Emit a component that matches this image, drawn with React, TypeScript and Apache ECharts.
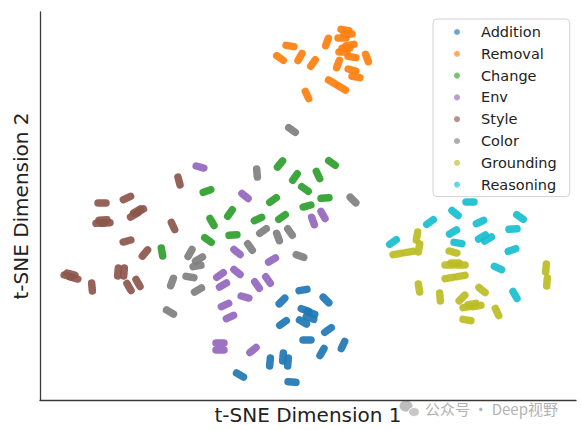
import React, { useEffect, useRef } from "react";
import * as echarts from "echarts";

// Category names (legend order)
const categories = ["Addition", "Removal", "Change", "Env", "Style", "Color", "Grounding", "Reasoning"];

// t-SNE embedded points: [dim1, dim2, orientation of the stroke in degrees]
const additionPts = [
  [263, 110, 10], [242, 99, 45], [286, 100, -45], [265, 90, -20], [271, 87, -20],
  [270, 82, -20], [263, 78, -30], [243, 77, 35], [288, 70, 35], [267, 60, 0],
  [303, 55, 65], [282, 48, 60], [230, 38, 85], [243, 43, 85], [248, 38, 85],
  [200, 25, -30], [252, 18, -5],
];
const removalPts = [
  [240, 342, -35], [250, 354, -10], [260, 343, 60], [273, 337, 55], [287, 358, 70],
  [305, 370, -10], [302, 362, 0], [310, 355, 10], [303, 348, 0], [312, 343, -10],
  [298, 336, 70], [312, 330, -15], [316, 323, -10], [327, 342, -70], [292, 318, -30],
  [302, 312, -30], [267, 305, -65], [308, 366, 0], [306, 352, 5],
];
const changePts = [
  [240, 236, 50], [292, 237, -35], [255, 223, 55], [278, 225, -65], [167, 209, 20],
  [233, 200, 35], [265, 211, -35], [285, 202, 5], [190, 187, 55], [172, 178, -60],
  [218, 181, 25], [242, 183, 35], [267, 194, 15], [193, 165, 5], [168, 160, -35],
  [122, 148, -80],
];
const envPts = [
  [160, 233, -15], [205, 204, -40], [273, 179, -70], [283, 185, -60], [197, 148, -40],
  [232, 140, 30], [180, 125, 35], [197, 128, -40], [183, 115, 30], [217, 115, -55],
  [228, 120, -55], [205, 103, -15], [185, 95, 25], [190, 83, 25], [180, 57, 0],
  [180, 50, 0], [213, 50, 40],
];
const stylePts = [
  [62, 197, 0], [87, 202, 25], [60, 177, 5], [66, 177, 5], [63, 180, 5], [94, 185, 30],
  [100, 189, 30], [97, 189, 30], [139, 219, -75], [133, 174, -65], [87, 159, 15], [105, 147, 50],
  [28, 124, -15], [34, 122, -15], [31, 126, -15], [52, 113, -85], [78, 128, 85], [84, 128, 85],
  [89, 113, -60], [98, 117, -60],
];
const colorPts = [
  [252, 270, -35], [217, 227, -85], [313, 200, -45], [223, 169, 35], [238, 163, -70],
  [250, 168, -55], [210, 153, -55], [260, 144, -20], [150, 147, 60], [159, 141, 30],
  [157, 134, 10], [132, 118, 70], [150, 123, -10], [158, 110, 30], [130, 88, -30],
];
const groundingPts = [
  [377, 164, 80], [379, 152, 80], [357, 146, 10], [369, 148, 10], [413, 148, -15],
  [409, 135, 0], [421, 135, 0], [415, 137, 0], [409, 122, 10], [421, 124, 10], [506, 132, 85],
  [507, 118, 85], [379, 112, -80], [400, 103, -85], [422, 102, 45], [442, 110, -40],
  [427, 93, 10], [437, 94, 10], [432, 96, 10], [457, 88, -65], [427, 80, -10],
];
const reasoningPts = [
  [430, 198, 0], [415, 187, -40], [390, 178, 35], [440, 178, 25], [480, 183, -35],
  [413, 168, 30], [473, 171, 5], [442, 163, 30], [448, 161, 30], [418, 157, -10],
  [353, 158, 35], [472, 150, 20], [458, 132, -25], [475, 105, -60],
];

const seriesPoints = [additionPts, removalPts, changePts, envPts, stylePts, colorPts, groundingPts, reasoningPts];

const palette = ["#1f77b4", "#ff7f0e", "#2ca02c", "#9467bd", "#8c564b", "#7f7f7f", "#bcbd22", "#17becf"];

const capsule = "path://M4,0L12,0A4,4,0,0,1,12,8L4,8A4,4,0,0,1,4,0Z";
const FONT = "DejaVu Sans";

export default function App() {
  const ref = useRef<HTMLDivElement>(null);
  useEffect(() => {
    if (!ref.current) return;
    const chart = echarts.init(ref.current, undefined, { renderer: "svg" });
    chart.setOption({
      animation: false,
      backgroundColor: "#ffffff",
      grid: { left: 40, right: 6, top: 12, bottom: 30 },
      xAxis: {
        type: "value", min: 0, max: 536,
        name: "t-SNE Dimension 1", nameLocation: "middle", nameGap: 5,
        nameTextStyle: { fontFamily: FONT, fontSize: 20, color: "#222" },
        axisLine: { show: true, onZero: false, lineStyle: { color: "#3a3a3a", width: 1.3 } },
        axisTick: { show: false }, axisLabel: { show: false }, splitLine: { show: false },
      },
      yAxis: {
        type: "value", min: 0, max: 388,
        name: "t-SNE Dimension 2", nameLocation: "middle", nameGap: 9,
        nameTextStyle: { fontFamily: FONT, fontSize: 20, color: "#222" },
        axisLine: { show: true, onZero: false, lineStyle: { color: "#3a3a3a", width: 1.3 } },
        axisTick: { show: false }, axisLabel: { show: false }, splitLine: { show: false },
      },
      legend: {
        orient: "vertical", left: 433, top: 19,
        padding: [4, 13, 3, 21],
        icon: "circle", itemWidth: 6, itemHeight: 6, itemGap: 3.8,
        selectedMode: false,
        backgroundColor: "rgba(255,255,255,0.85)",
        borderColor: "#d2d2d2", borderWidth: 1, borderRadius: 4,
        itemStyle: { opacity: 0.65 },
        textStyle: { fontFamily: FONT, fontSize: 14.5, color: "#222", lineHeight: 18, padding: [0, 0, 0, 16] },
        data: categories,
      },
      series: categories.map((name, i) => ({
        name,
        type: "scatter",
        symbol: capsule,
        symbolSize: [15.5, 7.5],
        itemStyle: { color: palette[i], opacity: 0.92 },
        data: seriesPoints[i].map((p) => ({ value: [p[0], p[1]], symbolRotate: p[2] })),
      })),
      graphic: [
        { type: "ellipse", shape: { cx: 406, cy: 406, rx: 6.5, ry: 5.5 }, style: { fill: "#bdbdbd" } },
        { type: "ellipse", shape: { cx: 414, cy: 412, rx: 5.5, ry: 4.5 }, style: { fill: "#c8c8c8", stroke: "#fff", lineWidth: 1 } },
        {
          type: "text", left: 425, top: 401,
          style: { text: "公众号 · Deep视野", fill: "#b3b3b3", fontSize: 15, fontFamily: "Noto Sans CJK SC" },
        },
      ],
    });
    return () => chart.dispose();
  }, []);
  return <div ref={ref} style={{ position: "fixed", left: 0, top: 0, width: 582, height: 430 }} />;
}
